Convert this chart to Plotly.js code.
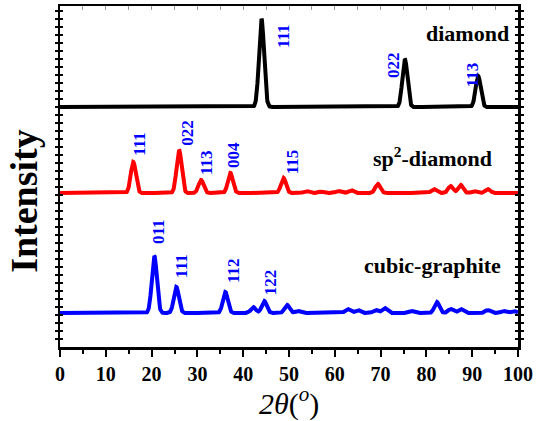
<!DOCTYPE html>
<html><head><meta charset="utf-8">
<script src="https://cdn.plot.ly/plotly-3.0.1.min.js"></script>
<style>html,body{margin:0;padding:0;background:#fff}#c{width:537px;height:421px}</style>
</head><body><div id="c"></div>
<script>
// Peak data (position in 2θ degrees, relative height)
var diamondPos = [44.0, 75.3, 91.3];
var diamondH   = [88, 48, 31];
var sp2Pos = [16.0, 26.0, 30.8, 37.2, 48.8, 53.8, 57.0, 60.8, 63.5, 69.4, 81.6, 85.3, 87.5, 90.4, 93.4];
var sp2H   = [31, 43, 13, 20, 15, 2, 1.5, 2, 3, 9, 4, 7, 8, 2, 4];
var cgPos = [20.6, 25.4, 36.1, 42.2, 44.6, 49.6, 52.0, 62.8, 65.0, 68.9, 70.9, 76.8, 82.3, 85.3, 87.5, 93.4, 96.9, 99.1];
var cgH   = [57, 26, 21, 6, 12, 8, 2, 4, 3, 3, 5, 2, 11, 4, 4, 3, 2, 2];
var offsets = {diamond: 240, sp2: 154, cg: 34};

var diamondLabels = ["111", "022", "113"];
var diamondLabelX = [48.7, 72.7, 90.0];
var diamondLabelY = [311, 282, 272];
var sp2Labels = ["111", "022", "113", "004", "115"];
var sp2LabelX = [17.2, 27.7, 31.9, 37.8, 50.7];
var sp2LabelY = [203, 214, 184, 192, 185];
var cgLabels = ["011", "111", "112", "122"];
var cgLabelX = [21.4, 26.4, 37.8, 45.9];
var cgLabelY = [115, 81, 76, 65];

function profile(pos, h, off) {
  var xs = [], ys = [], sig = 0.55;
  for (var i = 0; i <= 2000; i++) {
    var x = i * 0.05, y = off;
    for (var k = 0; k < pos.length; k++) {
      var d = x - pos[k];
      y += h[k] * Math.exp(-d * d / (2 * sig * sig));
    }
    xs.push(x); ys.push(y);
  }
  return {x: xs, y: ys};
}
var pd = profile(diamondPos, diamondH, offsets.diamond);
var ps = profile(sp2Pos, sp2H, offsets.sp2);
var pc = profile(cgPos, cgH, offsets.cg);

var traces = [
  {x: pd.x, y: pd.y, mode: 'lines', line: {color: '#000', width: 4}, hoverinfo: 'skip'},
  {x: ps.x, y: ps.y, mode: 'lines', line: {color: '#ff0000', width: 4}, hoverinfo: 'skip'},
  {x: pc.x, y: pc.y, mode: 'lines', line: {color: '#0000ff', width: 4}, hoverinfo: 'skip'}
];

var ann = [];
function addLabels(txt, xs, ys) {
  for (var i = 0; i < txt.length; i++) {
    ann.push({x: xs[i], y: ys[i], xref: 'x', yref: 'y', text: '<b>' + txt[i] + '</b>', showarrow: false,
      textangle: -90, font: {family: 'Liberation Serif', size: 17, color: '#0000ff'}});
  }
}
addLabels(diamondLabels, diamondLabelX, diamondLabelY);
addLabels(sp2Labels, sp2LabelX, sp2LabelY);
addLabels(cgLabels, cgLabelX, cgLabelY);
var nameFont = {family: 'Liberation Serif', size: 22, color: '#000'};
ann.push({x: 98.5, y: 314, xref: 'x', yref: 'y', xanchor: 'right', text: '<b>diamond</b>', showarrow: false, font: nameFont});
ann.push({x: 81.4, y: 190, xref: 'x', yref: 'y', text: '<b>sp<sup>2</sup>-diamond</b>', showarrow: false, font: nameFont});
ann.push({x: 81.4, y: 82, xref: 'x', yref: 'y', text: '<b>cubic-graphite</b>', showarrow: false, font: nameFont});
// y-axis title placed as in the reference (below the axis centre)
ann.push({x: -0.079, y: 0.428, xref: 'paper', yref: 'paper', xanchor: 'center', yanchor: 'middle',
  text: '<b>Intensity</b>', showarrow: false,
  textangle: -90, font: {family: 'Liberation Serif', size: 38, color: '#000'}});

var layout = {
  width: 537, height: 421,
  margin: {l: 60, r: 19, t: 6, b: 74},
  paper_bgcolor: '#fff', plot_bgcolor: '#fff',
  showlegend: false,
  xaxis: {
    range: [0, 100], dtick: 10, tick0: 0, showgrid: false, zeroline: false,
    showline: true, linecolor: '#000', linewidth: 2.5, mirror: true,
    ticks: 'outside', ticklen: 7, tickwidth: 2, tickcolor: '#000',
    minor: {dtick: 5, ticks: 'outside', ticklen: 4, tickwidth: 2, tickcolor: '#000'},
    tickfont: {family: 'Liberation Serif', size: 20, color: '#000', weight: 'bold'},
    title: {text: '<i>2θ</i>(<sup><i>o</i></sup>)', font: {family: 'Liberation Serif', size: 30, color: '#000'}, standoff: 4}
  },
  xaxis2: {
    range: [0, 100], overlaying: 'x', side: 'top', showticklabels: false, showgrid: false, zeroline: false,
    ticks: 'inside', dtick: 5, ticklen: 4, tickwidth: 1, tickcolor: '#999'
  },
  yaxis: {
    range: [0, 341], showticklabels: false, showgrid: false, zeroline: false,
    showline: true, linecolor: '#000', linewidth: 2.5, mirror: 'allticks',
    ticks: 'inside', dtick: 8, ticklen: 3, tickwidth: 1.5, tickcolor: '#000'
  },
  annotations: ann
};
traces.push({x: [0, 100], y: [0, 0], xaxis: 'x2', yaxis: 'y', mode: 'lines', line: {width: 0}, hoverinfo: 'skip'});
Plotly.newPlot('c', traces, layout, {staticPlot: true});
</script>
</body></html>
